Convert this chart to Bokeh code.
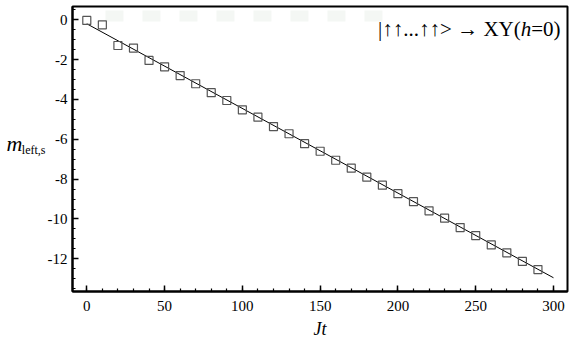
from bokeh.plotting import figure
from bokeh.models import FixedTicker, Label, Range1d, LinearAxis
from bokeh.embed import file_html
from bokeh.resources import INLINE

# ---- data ----
t = [0, 10, 20, 30, 40, 50, 60, 70, 80, 90, 100, 110, 120, 130, 140,
     150, 160, 170, 180, 190, 200, 210, 220, 230, 240, 250, 260, 270, 280, 290]
m_left_s = [-0.03, -0.25, -1.29, -1.42, -2.04, -2.36, -2.80, -3.21, -3.66, -4.05,
            -4.52, -4.89, -5.36, -5.72, -6.22, -6.60, -7.05, -7.45, -7.90, -8.30,
            -8.73, -9.13, -9.59, -9.96, -10.43, -10.83, -11.30, -11.70, -12.13, -12.54]
fit_t = [0, 300]
fit_m = [-0.2, -12.95]

x_ticks = [0, 50, 100, 150, 200, 250, 300]
x_tick_labels = ["0", "50", "100", "150", "200", "250", "300"]
x_minor = list(range(-10, 311, 10))
y_ticks = [0, -2, -4, -6, -8, -10, -12]
y_tick_labels = ["0", "-2", "-4", "-6", "-8", "-10", "-12"]
y_minor = [v / 2 for v in range(-27, 2)]

legend_main = "|\u2191\u2191...\u2191\u2191> \u2192 XY("
legend_h = "h"
legend_tail = "=0)"
x_label = "Jt"
y_label_main = "m"
y_label_sub = "left,s"

# vertical anchor (in y data units) for the horizontal y-axis label pieces
y_label_main_at = -6.23
y_label_sub_at = -6.54

# faint artefact strip near the top of the frame
strip_x = [12.0, 192.6]
strip_y = [0.19, 0.19]

FONT = "Liberation Serif"

p = figure(width=573, height=341,
           x_range=Range1d(-9.19, 309.0), y_range=Range1d(-13.64, 0.668),
           output_backend="svg", toolbar_location=None,
           min_border_left=72, min_border_right=6,
           min_border_top=6, min_border_bottom=50)

p.xgrid.visible = False
p.ygrid.visible = False
p.outline_line_color = "black"
p.outline_line_width = 2
p.outline_line_alpha = 1.0
p.background_fill_color = "white"
p.border_fill_color = "white"

p.line(strip_x, strip_y, line_color="#f4f7f4", line_width=11, line_dash="18 19")

p.line(fit_t, fit_m, line_color="black", line_width=1)
p.scatter(t, m_left_s, marker="square", size=8, fill_color=None,
          line_color="#555555", line_width=1.2)

for ax, ticks, labels, minor in ((p.xaxis[0], x_ticks, x_tick_labels, x_minor),
                                  (p.yaxis[0], y_ticks, y_tick_labels, y_minor)):
    ax.ticker = FixedTicker(ticks=ticks, minor_ticks=minor)
    ax.major_label_overrides = {tv: lab for tv, lab in zip(ticks, labels)}
    ax.axis_line_width = 2
    ax.axis_line_color = "black"
    ax.major_tick_line_width = 1.5
    ax.minor_tick_line_width = 1.2
    ax.major_tick_in = 6
    ax.major_tick_out = 0
    ax.minor_tick_in = 3
    ax.minor_tick_out = 0
    ax.major_label_text_font = FONT
    ax.major_label_text_font_size = "15px"
    ax.major_label_text_color = "black"

p.xaxis[0].major_label_standoff = 9
p.yaxis[0].major_label_standoff = 5

p.xaxis[0].axis_label = x_label
p.xaxis[0].axis_label_text_font = FONT
p.xaxis[0].axis_label_text_font_style = "italic"
p.xaxis[0].axis_label_text_font_size = "18px"
p.xaxis[0].axis_label_text_color = "black"
p.xaxis[0].axis_label_standoff = 5


def label_axis(text, at, size, style, standoff):
    return LinearAxis(ticker=FixedTicker(ticks=[at], minor_ticks=[]),
                      major_label_overrides={at: text},
                      axis_line_color=None, major_tick_line_color=None,
                      minor_tick_line_color=None, major_tick_out=0, major_tick_in=0,
                      minor_tick_out=0, minor_tick_in=0,
                      major_label_standoff=standoff, major_label_text_font=FONT,
                      major_label_text_font_size=size,
                      major_label_text_font_style=style,
                      major_label_text_color="black")


# subscript closest to the tick labels, then the italic "m"
p.add_layout(label_axis(y_label_sub, y_label_sub_at, "12px", "normal", -1), "left")
p.add_layout(label_axis(y_label_main, y_label_main_at, "22px", "italic", -4), "left")

# legend text in top right corner
p.add_layout(Label(x=488, y=262.7, x_units="screen", y_units="screen",
                   text=legend_tail, text_font=FONT, text_font_size="21px",
                   text_color="black", text_align="right", text_baseline="alphabetic"))
p.add_layout(Label(x=458.7, y=262.7, x_units="screen", y_units="screen",
                   text=legend_h, text_font=FONT, text_font_style="italic",
                   text_font_size="21px", text_color="black",
                   text_align="right", text_baseline="alphabetic"))
p.add_layout(Label(x=448.2, y=262.7, x_units="screen", y_units="screen",
                   text=legend_main, text_font=FONT, text_font_size="21px",
                   text_color="black", text_align="right", text_baseline="alphabetic"))

open("out.html", "w").write(file_html(p, INLINE))
